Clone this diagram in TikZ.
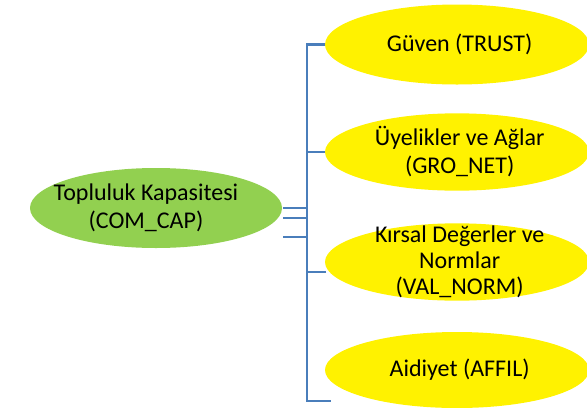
\documentclass[tikz,border=0pt]{standalone}
\usepackage{fontspec}
\setmainfont{Carlito}
\usetikzlibrary{shapes.geometric}

\tikzset{
  leaf/.style = {ellipse, fill = yellow, inner sep = 0pt,
    minimum width = 198pt, minimum height = 58pt},
  root/.style = {ellipse, fill = rootgreen, inner sep = 0pt,
    minimum width = 189pt, minimum height = 60pt},
  txt/.style = {align = center, inner sep = 0pt,
    font = \fontsize{18}{21}\selectfont},
  link/.style = {draw = linkblue, line width = 2pt}
}
\definecolor{rootgreen}{HTML}{92D050}
\definecolor{linkblue}{HTML}{4A7EBB}

\begin{document}
\begin{tikzpicture}[x = 0.75pt, y = -0.75pt]
  \useasboundingbox (0, 0) rectangle (587, 408);

  % ellipses
  \node[root] (cap) at (156, 208)
    [label = {[txt, xshift = -7.5pt]center:{Topluluk Kapasitesi\\(COM\_CAP)}}] {};
  \node[leaf, minimum height = 60pt] (trust) at (457, 44.5)
    [label = {[txt, xshift = 2pt]center:{Güven (TRUST)}}] {};
  \node[leaf] (gro) at (457, 152)
    [label = {[txt, xshift = 2pt]center:{Üyelikler ve Ağlar\\(GRO\_NET)}}] {};
  \node[leaf] (val) at (457, 262)
    [label = {[txt, xshift = 2pt, font = \fontsize{18}{19.5}\selectfont]
      center:{Kırsal Değerler ve\\Normlar\\(VAL\_NORM)}}] {};
  \node[leaf, minimum height = 57pt] (affil) at (457, 370)
    [label = {[txt, xshift = 2pt]center:{Aidiyet (AFFIL)}}] {};

  % bracket
  \coordinate (top) at (307, 44.5);
  \coordinate (bottom) at (307, 401);
  \coordinate (foot) at (331, 401);
  \coordinate (valtick) at (326, 272);
  \foreach \y [count = \i] in {208, 218, 237}
    \coordinate (tick\i) at (283, \y);

  \draw[link] (trust.west) -- (top) -- (bottom) -- (foot);
  \draw[link] (gro.west) -- (gro.west -| top);
  \draw[link] (valtick) -- (valtick -| top);
  \foreach \i in {1, 2, 3}
    \draw[link] (tick\i) -- (tick\i -| top);
\end{tikzpicture}
\end{document}
